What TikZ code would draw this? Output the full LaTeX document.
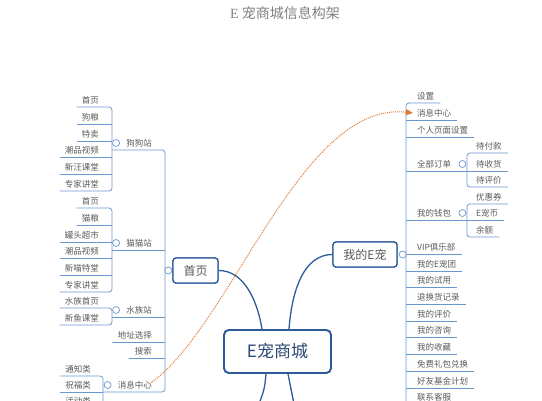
\documentclass[tikz,border=0pt]{standalone}
\usepackage{fontspec}
\setmainfont{Noto Sans CJK SC}
\newfontfamily\titleE{Liberation Serif}
\usetikzlibrary{calc,arrows.meta}
\definecolor{boxblue}{HTML}{2D5B9A}
\definecolor{linkblue}{HTML}{6B97CF}
\definecolor{txtgray}{HTML}{5A5A5A}
\definecolor{reltan}{HTML}{E07B39}
\definecolor{titlegray}{HTML}{808080}
\definecolor{roottext}{HTML}{2C4A72}
\begin{document}
\begin{tikzpicture}[x=1pt,y=-1pt,
 leaf/.style={inner sep=0pt, font=\fontsize{8.5}{9}\selectfont, text=txtgray},
 br/.style={draw=linkblue, line width=0.8pt},
 knob/.style={circle, draw=linkblue, fill=white, line width=0.7pt, minimum size=7pt, inner sep=0pt},
 topicbox/.style={draw=boxblue, line width=1.3pt, rounded corners=3pt, fill=white, font=\fontsize{12}{13}\selectfont, text=txtgray, inner sep=0pt, minimum height=25pt},
 rootbox/.style={draw=boxblue, line width=1.8pt, rounded corners=5pt, fill=white, font=\fontsize{17}{18}\selectfont, text=roottext, minimum width=107pt, minimum height=43pt, inner sep=0pt},
 mainlink/.style={draw=boxblue, line width=1.3pt},
 relation/.style={draw=reltan, line width=1pt, dash pattern=on 1pt off 1pt, -{Triangle[length=7pt,width=6pt]}}
]
\path[use as bounding box] (0,0) rectangle (542,400);
\clip (0,0) rectangle (542,400);

% title
\node[font=\fontsize{14}{15}\selectfont, text=titlegray, inner sep=0pt] (title) at (285,13) {{\titleE E} 宠商城信息构架};

% ---------- main topics ----------
\node[rootbox] (root) at (277.5,351.5) {E宠商城};
\node[topicbox, minimum width=45pt] (home) at (195.5,270.5) {首页};
\node[topicbox, minimum width=64pt] (mine) at (365,254.5) {我的E宠};

% ---------- left: children of 首页 ----------
\node[leaf,anchor=east] (dog)    at (152,143) {狗狗站};
\node[leaf,anchor=east] (cat)    at (152,243) {猫猫站};
\node[leaf,anchor=east] (fish)   at (152,310) {水族站};
\node[leaf,anchor=east] (addr)   at (152,335) {地址选择};
\node[leaf,anchor=east] (search) at (152,351) {搜索};
\node[leaf,anchor=east] (lmsg)   at (152,385) {消息中心};

% 狗狗站 children
\node[leaf,anchor=east] (d1) at (99,100) {首页};
\node[leaf,anchor=east] (d2) at (99,117) {狗粮};
\node[leaf,anchor=east] (d3) at (99,134) {特卖};
\node[leaf,anchor=east] (d4) at (99,150) {潮品视频};
\node[leaf,anchor=east] (d5) at (99,167) {新汪课堂};
\node[leaf,anchor=east] (d6) at (99,184) {专家讲堂};
% 猫猫站 children
\node[leaf,anchor=east] (c1) at (99,201) {首页};
\node[leaf,anchor=east] (c2) at (99,218) {猫粮};
\node[leaf,anchor=east] (c3) at (99,235) {罐头超市};
\node[leaf,anchor=east] (c4) at (99,251) {潮品视频};
\node[leaf,anchor=east] (c5) at (99,268) {新喵特堂};
\node[leaf,anchor=east] (c6) at (99,285) {专家讲堂};
% 水族站 children
\node[leaf,anchor=east] (f1) at (99,301) {水族首页};
\node[leaf,anchor=east] (f2) at (99,318) {新鱼课堂};
% 消息中心 children
\node[leaf,anchor=east] (m1) at (91,369) {通知类};
\node[leaf,anchor=east] (m2) at (91,385) {祝福类};
\node[leaf,anchor=east] (m3) at (91,401) {活动类};

% ---------- right: children of 我的E宠 ----------
\node[leaf,anchor=west] (r1)  at (417,96)  {设置};
\node[leaf,anchor=west] (r2)  at (417,113) {消息中心};
\node[leaf,anchor=west] (r3)  at (417,130) {个人页面设置};
\node[leaf,anchor=west] (r4)  at (417,164) {全部订单};
\node[leaf,anchor=west] (r5)  at (417,213) {我的钱包};
\node[leaf,anchor=west] (r6)  at (417,247) {VIP俱乐部};
\node[leaf,anchor=west] (r7)  at (417,264) {我的E宠团};
\node[leaf,anchor=west] (r8)  at (417,280) {我的试用};
\node[leaf,anchor=west] (r9)  at (417,297) {退换货记录};
\node[leaf,anchor=west] (r10) at (417,314) {我的评价};
\node[leaf,anchor=west] (r11) at (417,330) {我的咨询};
\node[leaf,anchor=west] (r12) at (417,347) {我的收藏};
\node[leaf,anchor=west] (r13) at (417,364) {免费礼包兑换};
\node[leaf,anchor=west] (r14) at (417,381) {好友基金计划};
\node[leaf,anchor=west] (r15) at (417,397) {联系客服};
% 全部订单 children
\node[leaf,anchor=west] (o1) at (476,146) {待付款};
\node[leaf,anchor=west] (o2) at (476,164) {待收货};
\node[leaf,anchor=west] (o3) at (476,180) {待评价};
% 我的钱包 children
\node[leaf,anchor=west] (w1) at (476,197) {优惠券};
\node[leaf,anchor=west] (w2) at (476,213) {E宠币};
\node[leaf,anchor=west] (w3) at (476,230) {余额};

% ---------- left brackets ----------
\coordinate (dogb) at (112,150);
\coordinate (catb) at (112,250);
\coordinate (fishb) at (112,317);
\coordinate (lmsgb) at (103,392);
\draw[br,rounded corners=3pt] (dogb) -- ($(dog.east)+(13,7)$) -- ($(lmsg.east)+(13,7)$) -- (lmsgb);
\draw[br] (catb) -- ($(cat.east)+(13,7)$);
\draw[br] (fishb) -- ($(fish.east)+(13,7)$);
\foreach \n in {addr,search} \draw[br] ($(\n.west)+(-6,7)$) -- ($(\n.east)+(13,7)$);

\draw[br,rounded corners=3pt] ($(d1.west)+(-5,7)$) -- ($(d1.east)+(13,7)$) -- ($(d6.east)+(13,7)$) -- ($(d6.west)+(-5,7)$);
\foreach \n in {d2,d3,d4,d5} \draw[br] ($(\n.west)+(-5,7)$) -- ($(\n.east)+(13,7)$);
\draw[br,rounded corners=3pt] ($(c1.west)+(-5,7)$) -- ($(c1.east)+(13,7)$) -- ($(c6.east)+(13,7)$) -- ($(c6.west)+(-5,7)$);
\foreach \n in {c2,c3,c4,c5} \draw[br] ($(\n.west)+(-5,7)$) -- ($(\n.east)+(13,7)$);
\draw[br,rounded corners=3pt] ($(f1.west)+(-5,7)$) -- ($(f1.east)+(13,7)$) -- ($(f2.east)+(13,7)$) -- ($(f2.west)+(-5,7)$);
\draw[br,rounded corners=3pt] ($(m1.west)+(-5,7)$) -- ($(m1.east)+(12,7)$) -- ($(m3.east)+(12,7)$) -- ($(m3.west)+(-5,7)$);
\draw[br] ($(m2.west)+(-5,7)$) -- ($(m2.east)+(12,7)$);

% ---------- right brackets ----------
\draw[br,rounded corners=3pt] ($(r1.east)+(6,7)$) -- ($(r1.west)+(-11,7)$) -- ($(r15.west)+(-11,7)$) -- ($(r15.east)+(6,7)$);
\foreach \n in {r2,r3,r6,r7,r8,r9,r10,r11,r12,r13,r14} \draw[br] ($(\n.west)+(-11,7)$) -- ($(\n.east)+(6,7)$);
\draw[br] ($(r4.west)+(-11,7)$) -- ($(o2.west)+(-9,7)$);
\draw[br] ($(r5.west)+(-11,7)$) -- ($(w2.west)+(-9,7)$);
\draw[br,rounded corners=3pt] ($(o1.east)+(6,7)$) -- ($(o1.west)+(-9,7)$) -- ($(o3.west)+(-9,7)$) -- ($(o3.east)+(6,7)$);
\draw[br] ($(o2.west)+(-9,7)$) -- ($(o2.east)+(6,7)$);
\draw[br,rounded corners=3pt] ($(w1.east)+(6,7)$) -- ($(w1.west)+(-9,7)$) -- ($(w3.west)+(-9,7)$) -- ($(w3.east)+(6,7)$);
\draw[br] ($(w2.west)+(-9,7)$) -- ($(w2.east)+(6,7)$);

% ---------- main links ----------
\coordinate (downL) at (259,404);
\coordinate (downR) at (294,404);
\draw[mainlink] ($(root.north)+(-15.5,0)$) .. controls ($(root.north)+(-19.5,-25)$) and ($(home.east)+(27,0)$) .. (home.east);
\draw[mainlink] ($(root.north)+(11.5,0)$) .. controls ($(root.north)+(14.5,-40)$) and ($(mine.west)+(-28,0)$) .. (mine.west);
\draw[mainlink] ($(root.south)+(-11.5,0)$) .. controls ($(root.south)+(-13,15)$) .. (downL);
\draw[mainlink] ($(root.south)+(10.5,0)$) .. controls ($(root.south)+(13,15)$) .. (downR);

% redraw boxes on top
\node[rootbox] at (root) {E宠商城};
\node[topicbox, minimum width=45pt] at (home) {首页};
\node[topicbox, minimum width=64pt] at (mine) {我的E宠};

% ---------- relation ----------
\coordinate (relS) at ($(lmsg.east)+(-3,-1)$);
\coordinate (relE) at ($(r2.west)+(-4,0)$);
\draw[relation] (relS) .. controls (230,330) and (300,100) .. (relE);

% ---------- knobs ----------
\node[knob] (kdog)  at ($(dog.west)+(-10,0)$) {};
\node[knob] (kcat)  at ($(cat.west)+(-10,0)$) {};
\node[knob] (kfish) at ($(fish.west)+(-10,0)$) {};
\node[knob] (kmsg)  at ($(lmsg.west)+(-10,0)$) {};
\node[knob] (khome) at ($(home.west)+(-4,0)$) {};
\node[knob] (kmine) at ($(mine.east)+(5,0)$) {};
\node[knob] (kr4)   at ($(r4.east)+(11,0)$) {};
\node[knob] (kr5)   at ($(r5.east)+(11,0)$) {};
\end{tikzpicture}
\end{document}
